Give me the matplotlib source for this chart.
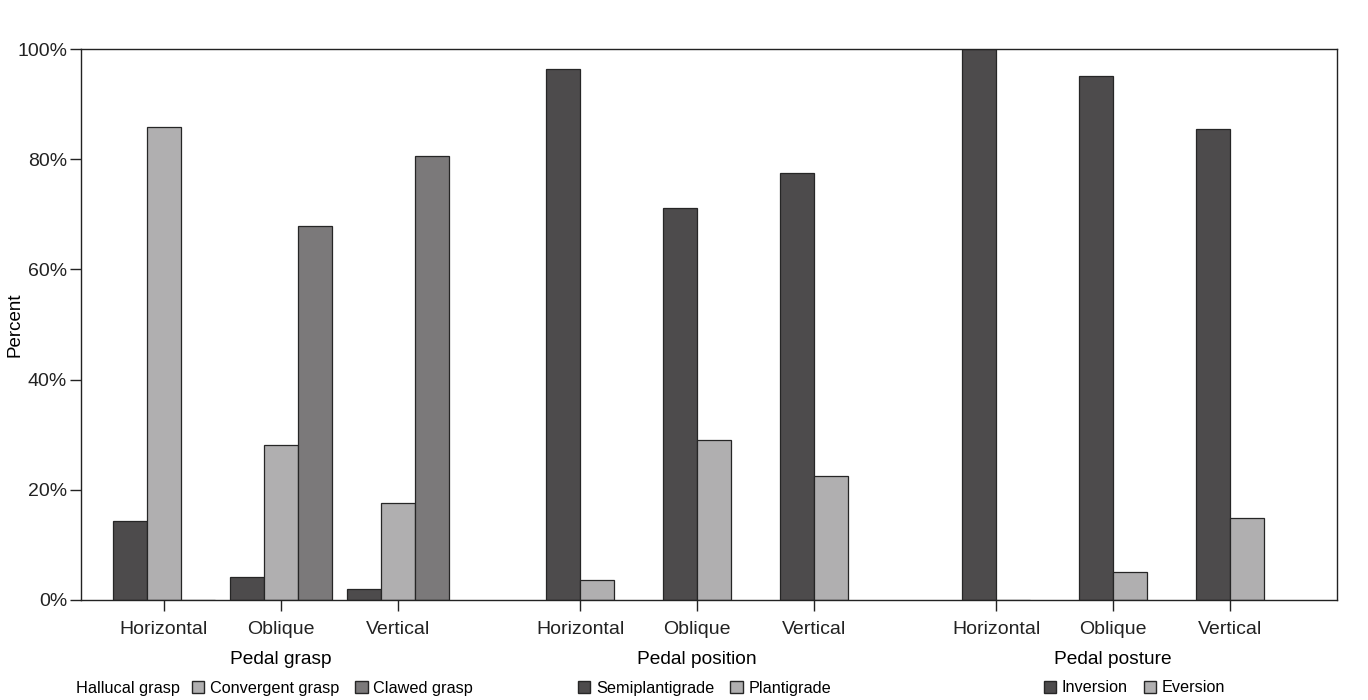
import numpy as np
import matplotlib
matplotlib.use('Agg')
import matplotlib.pyplot as plt
from matplotlib.patches import Patch

plt.rcParams['font.family'] = ['Liberation Sans', 'DejaVu Sans']

# данные
orientations = ['Horizontal', 'Oblique', 'Vertical']
groups = ['Pedal grasp', 'Pedal position', 'Pedal posture']

hallucal = [14.3, 4.2, 2.0]
convergent = [85.8, 28.1, 17.6]
clawed = [0.0, 67.9, 80.6]

semiplantigrade = [96.4, 71.1, 77.5]
plantigrade = [3.6, 29.0, 22.5]

inversion = [100.0, 95.1, 85.5]
eversion = [0.0, 5.1, 14.8]

dark = '#4d4b4c'
light = '#b0afb0'
mid = '#7b797a'
edge = '#262626'

fig = plt.figure(figsize=(13.68, 7), dpi=100)
ax = fig.add_axes([81 / 1368, 1 - 600 / 700, (1337 - 81) / 1368, (600 - 49) / 700])

w = 0.29
gap = 1.556
x1 = np.arange(3)
x2 = x1 + 2 + gap
x3 = x2 + 2 + gap

kw = dict(width=w, edgecolor=edge, linewidth=0.9)
ax.bar(x1 - w, hallucal, color=dark, **kw)
ax.bar(x1, convergent, color=light, **kw)
ax.bar(x1 + w, clawed, color=mid, **kw)

ax.bar(x2 - w / 2, semiplantigrade, color=dark, **kw)
ax.bar(x2 + w / 2, plantigrade, color=light, **kw)

ax.bar(x3 - w / 2, inversion, color=dark, **kw)
ax.bar(x3 + w / 2, eversion, color=light, **kw)

ax.set_xlim(-0.709, 10.026)
ax.set_ylim(0, 100)
ax.set_yticks(np.arange(0, 101, 20))
ax.set_yticklabels([f'{v}%' for v in range(0, 101, 20)])
xt = np.concatenate([x1, x2, x3])
ax.set_xticks(xt)
ax.set_xticklabels(orientations * 3)
ax.tick_params(axis='both', direction='out', length=8, width=1, labelsize=14,
               colors='#222222', pad=7)
ax.tick_params(axis='y', pad=2)
for s in ax.spines.values():
    s.set_linewidth(1)
    s.set_color('#222222')
ax.set_ylabel('Percent', fontsize=13.5)
ax.yaxis.set_label_coords((23 - 81) / 1256, 0.5)

# подписи групп
for xs, g in zip([x1, x2, x3], groups):
    xc = ax.transData.transform((xs[1], 0))[0]
    fig.text(xc / 1368, 1 - 659 / 700, g, ha='center', va='center', fontsize=13.8)

# легенды
fs = 11.7
fig.text(76 / 1368, 1 - 688 / 700, 'Hallucal grasp', ha='left', va='center', fontsize=fs)

lkw = dict(frameon=False, fontsize=fs, handlelength=0.75, handleheight=0.75,
           handletextpad=0.35, columnspacing=1.0, borderpad=0, borderaxespad=0,
           loc='center left')
fig.legend(handles=[Patch(facecolor=light, edgecolor=edge, label='Convergent grasp'),
                    Patch(facecolor=mid, edgecolor=edge, label='Clawed grasp')],
           ncol=2, bbox_to_anchor=(192 / 1368, 1 - 688 / 700), **lkw)
fig.legend(handles=[Patch(facecolor=dark, edgecolor=edge, label='Semiplantigrade'),
                    Patch(facecolor=light, edgecolor=edge, label='Plantigrade')],
           ncol=2, bbox_to_anchor=(578 / 1368, 1 - 688 / 700), **lkw)
fig.legend(handles=[Patch(facecolor=dark, edgecolor=edge, label='Inversion'),
                    Patch(facecolor=light, edgecolor=edge, label='Eversion')],
           ncol=2, bbox_to_anchor=(1044 / 1368, 1 - 688 / 700), **lkw)

fig.savefig('out.png', dpi=100)
